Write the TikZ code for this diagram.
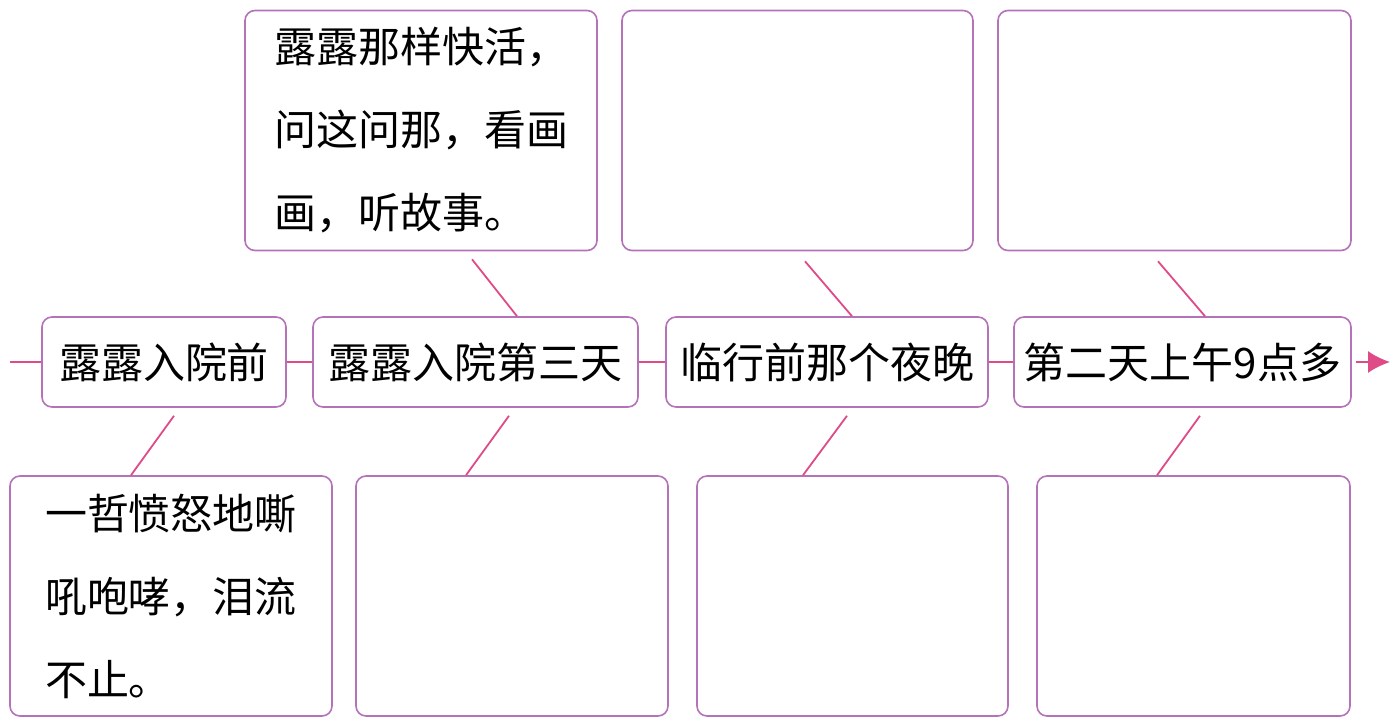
\documentclass[tikz,border=0pt]{standalone}
\usepackage{fontspec}
\newfontfamily\cjk{Noto Sans CJK SC}
\usepackage{tikz}
\usetikzlibrary{arrows.meta,positioning,calc}

\definecolor{boxcol}{RGB}{180,115,185}
\definecolor{linkcol}{RGB}{222,75,135}

\begin{document}
\begin{tikzpicture}[
    x=0.5pt,y=-0.5pt,
    font=\cjk\fontsize{21pt}{41.5pt}\selectfont,
    tlbox/.style={draw=boxcol, line width=0.8pt, rounded corners=5pt, fill=white, minimum height=45pt, inner sep=0pt, align=center},
    notebox/.style={draw=boxcol, line width=0.8pt, rounded corners=5pt, fill=white, minimum height=120pt, inner sep=0pt, align=left},
    link/.style={draw=linkcol, line width=0.9pt},
    bigarrow/.style={-{Latex[length=11pt,width=11pt]}, draw=linkcol, fill=linkcol, line width=0.9pt}
  ]
    % Rahmen
    \useasboundingbox (0,0) rectangle (1392,728);

    % Zeitleiste
    \node[tlbox, minimum width=122pt]   (t1) at (164,362)    {露露入院前};
    \node[tlbox, minimum width=162.5pt] (t2) at (475.5,362) {露露入院第三天};
    \node[tlbox, minimum width=161pt]   (t3) at (827,362)  {临行前那个夜晚};
    \node[tlbox, minimum width=168.5pt] (t4) at (1182.5,362) {第二天上午9点多};
    \coordinate (start) at (10,362);
    \coordinate (ende)  at (1390,362);

    % Kaesten oben
    \node[notebox, minimum width=176pt, text width=147pt] (ua) at (421,130.5)
      {露露那样快活，\\问这问那，看画\\画，听故事。};
    \node[notebox, minimum width=175.5pt] (ub) at (797.5,130.5) {};
    \node[notebox, minimum width=176.5pt] (uc) at (1174.5,130.5) {};

    % Kaesten unten
    \node[notebox, minimum width=161pt, text width=126pt] (ld) at (171,596)
      {一哲愤怒地嘶\\吼咆哮，泪流\\不止。};
    \node[notebox, minimum width=156pt]   (le) at (512,596)    {};
    \node[notebox, minimum width=155.5pt] (lf) at (852.5,596)  {};
    \node[notebox, minimum width=156.5pt] (lg) at (1193.5,596) {};

    % Linie mit Pfeil
    \draw[link] (start) -- (t1.west);
    \draw[link] (t1.east) -- (t2.west);
    \draw[link] (t2.east) -- (t3.west);
    \draw[link] (t3.east) -- (t4.west);
    \draw[bigarrow] ([shift={(4,0)}]t4.east) -- (ende);

    % Verbindungen oben
    \draw[link] ([shift={(51,8)}]ua.south) -- ([shift={(41.5,0)}]t2.north);
    \draw[link] ([shift={(7.5,10)}]ub.south) -- ([shift={(25,0)}]t3.north);
    \draw[link] ([shift={(-16.5,10)}]uc.south) -- ([shift={(22.5,0)}]t4.north);

    % Verbindungen unten
    \draw[link] ([shift={(10,8)}]t1.south) -- ([shift={(-40,0)}]ld.north);
    \draw[link] ([shift={(33.5,8)}]t2.south) -- ([shift={(-46,0)}]le.north);
    \draw[link] ([shift={(20,8)}]t3.south) -- ([shift={(-49.5,0)}]lf.north);
    \draw[link] ([shift={(17.5,8)}]t4.south) -- ([shift={(-36.5,0)}]lg.north);
  \end{tikzpicture}
\end{document}
